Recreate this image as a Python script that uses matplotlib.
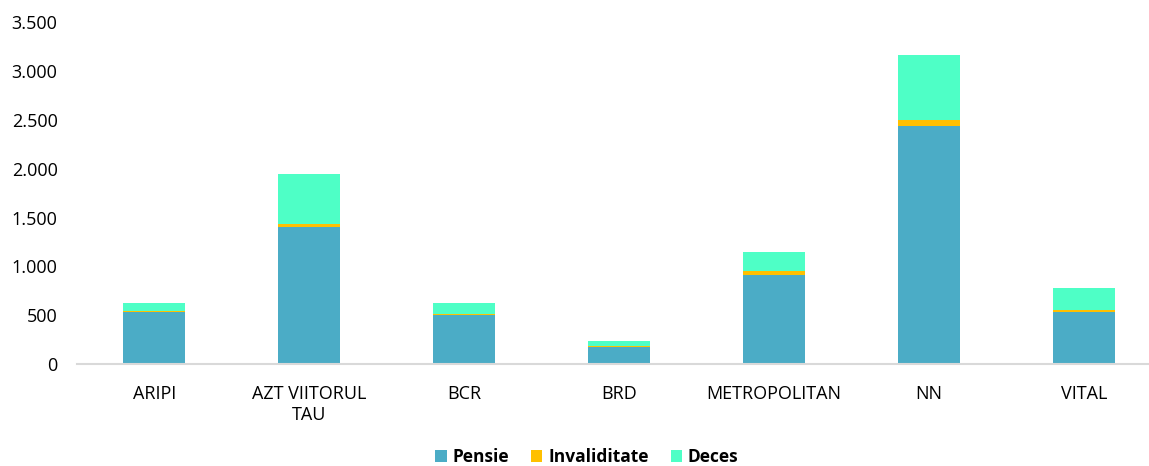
import numpy as np
import matplotlib.pyplot as plt
from matplotlib.ticker import FuncFormatter

# data
funds = ['ARIPI', 'AZT VIITORUL\nTAU', 'BCR', 'BRD', 'METROPOLITAN', 'NN', 'VITAL']
pensie = [528, 1407, 505, 174, 915, 2441, 536]
invaliditate = [10, 27, 12, 10, 41, 55, 20]
deces = [82, 513, 103, 55, 194, 673, 226]

plt.rcParams['font.family'] = ['Open Sans', 'DejaVu Sans']
plt.rcParams['font.size'] = 13

fig = plt.figure(figsize=(11.49, 4.66), dpi=100)
ax = fig.add_axes([77/1149, 102/466, 1072/1149, 341.6/466])

x = np.arange(len(funds))
w = 0.4
pensie = np.array(pensie)
invaliditate = np.array(invaliditate)
deces = np.array(deces)

ax.bar(x, pensie, w, color='#4BACC6', label='Pensie')
ax.bar(x, invaliditate, w, bottom=pensie, color='#FFC000', label='Invaliditate')
ax.bar(x, deces, w, bottom=pensie + invaliditate, color='#4EFFC6', label='Deces')

ax.set_xlim(-0.5, 6.42)
ax.set_ylim(0, 3500)
ax.set_yticks(np.arange(0, 3501, 500))
ax.yaxis.set_major_formatter(FuncFormatter(lambda v, p: f'{int(v):,}'.replace(',', '.')))
ax.set_xticks(x)
ax.set_xticklabels(funds, va='top', linespacing=1.25)

for s in ['top', 'right', 'left']:
    ax.spines[s].set_visible(False)
ax.spines['bottom'].set_color('#D9D9D9')
ax.spines['bottom'].set_linewidth(1.5)
ax.tick_params(axis='both', length=0, colors='#000000')
ax.tick_params(axis='x', pad=15)
ax.tick_params(axis='y', pad=14)

leg = fig.legend(loc='center', bbox_to_anchor=(587/1149, 1 - 457/466), ncol=3,
                 frameon=False, handlelength=0.65, handleheight=0.65,
                 handletextpad=0.35, columnspacing=1.25,
                 prop={'weight': 'bold', 'size': 12.5})

fig.savefig('out.png', dpi=100)
